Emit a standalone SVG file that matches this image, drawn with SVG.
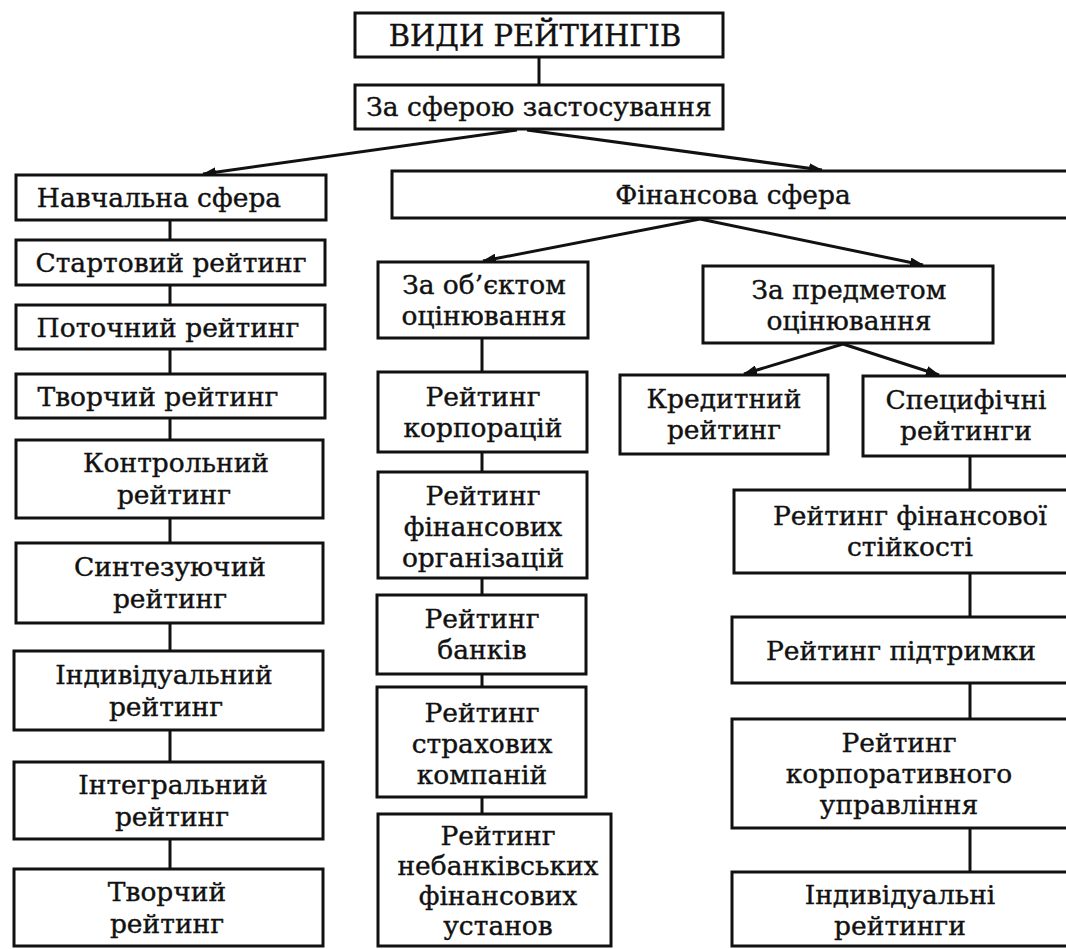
<svg xmlns="http://www.w3.org/2000/svg" width="1066" height="949" viewBox="0 0 1066 949">
<style>
  rect.box { fill: #ffffff; stroke: #111111; stroke-width: 3; }
  text { font-family: "DejaVu Serif", "Liberation Serif", serif; font-size: 26.5px; fill: #111111; stroke: #111111; stroke-width: 0.4; text-anchor: middle; }
  text.title { font-size: 29px; }
  .conn line { stroke: #111111; stroke-width: 3; }
  .conn line.arrow { marker-end: url(#ah); }
</style>
<defs>
  <marker id="ah" viewBox="0 0 14 10" refX="13" refY="5" markerWidth="14" markerHeight="10" markerUnits="userSpaceOnUse" orient="auto">
    <path d="M0,0 L14,5 L0,10 Z" fill="#111111"/>
  </marker>
</defs>
<rect width="1066" height="949" fill="#ffffff"/>

<g class="conn" id="connectors">
  <line x1="539" y1="57" x2="539" y2="85"/>
  <line class="arrow" x1="517" y1="130" x2="203" y2="174"/>
  <line class="arrow" x1="527" y1="130" x2="822" y2="170"/>
  <line class="arrow" x1="700" y1="219" x2="483" y2="261"/>
  <line class="arrow" x1="700" y1="219" x2="923" y2="265"/>
  <line class="arrow" x1="843" y1="344" x2="744" y2="374"/>
  <line class="arrow" x1="843" y1="344" x2="939" y2="375"/>
  <line x1="170" y1="220" x2="170" y2="240"/>
  <line x1="170" y1="285" x2="170" y2="305"/>
  <line x1="170" y1="349" x2="170" y2="374"/>
  <line x1="170" y1="418" x2="170" y2="440"/>
  <line x1="170" y1="518" x2="170" y2="543"/>
  <line x1="170" y1="623" x2="170" y2="651"/>
  <line x1="170" y1="730" x2="170" y2="762"/>
  <line x1="170" y1="839" x2="170" y2="869"/>
  <line x1="482" y1="338" x2="482" y2="372"/>
  <line x1="482" y1="452" x2="482" y2="472"/>
  <line x1="482" y1="578" x2="482" y2="595"/>
  <line x1="482" y1="674" x2="482" y2="687"/>
  <line x1="482" y1="797" x2="482" y2="814"/>
  <line x1="970" y1="456" x2="970" y2="490"/>
  <line x1="970" y1="573" x2="970" y2="617"/>
  <line x1="970" y1="683" x2="970" y2="719"/>
  <line x1="970" y1="828" x2="970" y2="872"/>
</g>

<g id="n-root"><rect class="box" x="355" y="13" width="368" height="44"/><text class="title" x="535" y="46">ВИДИ РЕЙТИНГІВ</text></g>
<g id="n-sfera"><rect class="box" x="355" y="85" width="368" height="44"/><text x="539" y="116">За сферою застосування</text></g>

<g id="n-nav"><rect class="box" x="16" y="175" width="310" height="45"/><text x="159" y="207">Навчальна сфера</text></g>
<g id="n-fin"><rect class="box" x="392" y="171" width="690" height="47"/><text x="733" y="204">Фінансова сфера</text></g>

<g id="n-start"><rect class="box" x="16" y="240" width="309" height="45"/><text x="171" y="272">Стартовий рейтинг</text></g>
<g id="n-potoch"><rect class="box" x="16" y="305" width="309" height="44"/><text x="168" y="337">Поточний рейтинг</text></g>
<g id="n-tvor1"><rect class="box" x="16" y="374" width="309" height="44"/><text x="158" y="406">Творчий рейтинг</text></g>
<g id="n-kontr"><rect class="box" x="16" y="440" width="307" height="78"/><text x="176" y="472">Контрольний</text><text x="174" y="504">рейтинг</text></g>
<g id="n-synt"><rect class="box" x="16" y="543" width="307" height="80"/><text x="170" y="576">Синтезуючий</text><text x="170" y="608">рейтинг</text></g>
<g id="n-indyv"><rect class="box" x="14" y="651" width="309" height="79"/><text x="164" y="684">Індивідуальний</text><text x="166" y="716">рейтинг</text></g>
<g id="n-integr"><rect class="box" x="14" y="762" width="309" height="77"/><text x="173" y="794">Інтегральний</text><text x="172" y="826">рейтинг</text></g>
<g id="n-tvor2"><rect class="box" x="14" y="869" width="309" height="77"/><text x="167" y="901">Творчий</text><text x="167" y="933">рейтинг</text></g>

<g id="n-obj"><rect class="box" x="378" y="262" width="210" height="76"/><text x="484" y="294">За об’єктом</text><text x="484" y="325">оцінювання</text></g>
<g id="n-korp"><rect class="box" x="378" y="372" width="209" height="80"/><text x="483" y="406">Рейтинг</text><text x="483" y="437">корпорацій</text></g>
<g id="n-finorg"><rect class="box" x="378" y="472" width="209" height="106"/><text x="483" y="505">Рейтинг</text><text x="483" y="536">фінансових</text><text x="483" y="567">організацій</text></g>
<g id="n-bank"><rect class="box" x="377" y="595" width="209" height="79"/><text x="482" y="628">Рейтинг</text><text x="482" y="659">банків</text></g>
<g id="n-strakh"><rect class="box" x="377" y="687" width="209" height="110"/><text x="482" y="722">Рейтинг</text><text x="482" y="753">страхових</text><text x="482" y="784">компаній</text></g>
<g id="n-nebank"><rect class="box" x="378" y="814" width="233" height="132"/><text x="498" y="845">Рейтинг</text><text x="498" y="875">небанківських</text><text x="498" y="905">фінансових</text><text x="498" y="935">установ</text></g>

<g id="n-pred"><rect class="box" x="703" y="266" width="290" height="77"/><text x="849" y="299">За предметом</text><text x="849" y="330">оцінювання</text></g>
<g id="n-kred"><rect class="box" x="620" y="375" width="208" height="79"/><text x="724" y="408">Кредитний</text><text x="724" y="439">рейтинг</text></g>
<g id="n-spec"><rect class="box" x="863" y="376" width="220" height="80"/><text x="966" y="409">Специфічні</text><text x="966" y="440">рейтинги</text></g>
<g id="n-stiyk"><rect class="box" x="734" y="490" width="350" height="83"/><text x="910" y="525">Рейтинг фінансової</text><text x="910" y="556">стійкості</text></g>
<g id="n-pidtr"><rect class="box" x="732" y="617" width="352" height="66"/><text x="901" y="660">Рейтинг підтримки</text></g>
<g id="n-korpupr"><rect class="box" x="732" y="719" width="352" height="109"/><text x="899" y="752">Рейтинг</text><text x="899" y="783">корпоративного</text><text x="899" y="814">управління</text></g>
<g id="n-indyvr"><rect class="box" x="732" y="872" width="352" height="74"/><text x="900" y="904">Індивідуальні</text><text x="900" y="935">рейтинги</text></g>
</svg>
